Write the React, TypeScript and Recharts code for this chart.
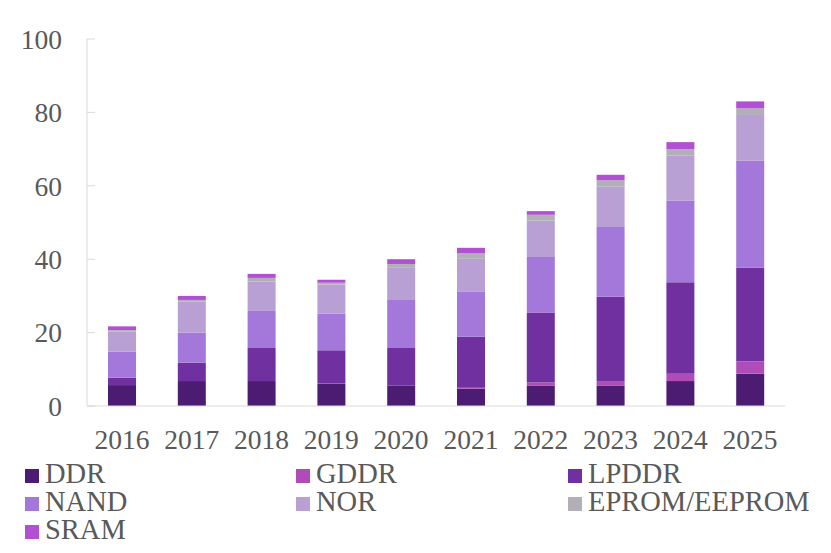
import { BarChart, Bar, XAxis, YAxis } from "recharts";

const years = ["2016", "2017", "2018", "2019", "2020", "2021", "2022", "2023", "2024", "2025"];
const ddr = [5.7, 6.8, 6.8, 6.1, 5.6, 4.7, 5.6, 5.6, 6.8, 8.8];
const gddr = [0, 0, 0, 0, 0, 0.3, 0.8, 1.2, 2.0, 3.3];
const lpddr = [2.0, 5.0, 9.0, 9.1, 10.2, 13.9, 19.1, 23.0, 24.9, 25.6];
const nand = [7.1, 8.2, 10.1, 10.0, 13.1, 12.2, 15.1, 19.0, 22.3, 29.1];
const nor = [5.5, 8.5, 8.0, 7.9, 8.9, 9.0, 9.9, 11.0, 12.2, 12.5];
const eprom = [0.4, 0.4, 1.0, 0.5, 0.9, 1.5, 1.6, 1.7, 1.8, 1.8];
const sram = [1.0, 1.1, 1.1, 0.8, 1.3, 1.5, 1.0, 1.5, 1.9, 1.9];
const yTicks = [0, 20, 40, 60, 80, 100];

const series = [
  { key: "DDR", values: ddr, color: "#4b1c72" },
  { key: "GDDR", values: gddr, color: "#b04cb8" },
  { key: "LPDDR", values: lpddr, color: "#7030a0" },
  { key: "NAND", values: nand, color: "#a477db" },
  { key: "NOR", values: nor, color: "#b89fd4" },
  { key: "EPROM/EEPROM", values: eprom, color: "#b3afb8" },
  { key: "SRAM", values: sram, color: "#b150d2" },
];

const data = years.map((year, i) => {
  const row: Record<string, string | number> = { year };
  for (const s of series) row[s.key] = s.values[i];
  return row;
});

const FONT = '"Liberation Serif", "Times New Roman", serif';
const TEXT = "#595959";

function YTick({ x, y, payload }: any) {
  return (
    <g>
      <line x1={x + 25} x2={x + 33} y1={y} y2={y} stroke="#d9d9d9" strokeWidth={1} />
      <text x={x} y={y} dy="0.355em" textAnchor="end" fill={TEXT} fontSize={27.5} fontFamily={FONT}>
        {payload.value}
      </text>
    </g>
  );
}

export default function App() {
  return (
    <div style={{ position: "absolute", left: 0, top: 0, width: 831, height: 553, background: "#fff" }}>
      <BarChart
        width={831}
        height={553}
        data={data}
        margin={{ top: 39, right: 46, left: 0, bottom: 117 }}
        barSize={28}
      >
        <XAxis
          dataKey="year"
          height={30}
          tickLine={false}
          tickSize={0}
          tickMargin={23}
          axisLine={{ stroke: "#d9d9d9" }}
          tick={{ fill: TEXT, fontSize: 27.5, fontFamily: FONT }}
          interval={0}
        />
        <YAxis
          width={87}
          domain={[0, 100]}
          ticks={yTicks}
          tickLine={false}
          tickSize={0}
          tickMargin={25}
          axisLine={{ stroke: "#d9d9d9" }}
          tick={<YTick />}
        />
        {series.map((s) => (
          <Bar key={s.key} dataKey={s.key} stackId="a" fill={s.color} isAnimationActive={false} />
        ))}
      </BarChart>
      <div
        style={{
          position: "absolute",
          left: 25,
          top: 460,
          display: "grid",
          gridTemplateColumns: "271px 272px auto",
          fontFamily: FONT,
          fontSize: 28.5,
          lineHeight: "28px",
          color: TEXT,
        }}
      >
        {series.map((s) => (
          <div key={s.key} style={{ whiteSpace: "nowrap" }}>
            <span
              style={{
                display: "inline-block",
                width: 14,
                height: 14,
                background: s.color,
                marginRight: 6,
              }}
            />
            {s.key}
          </div>
        ))}
      </div>
    </div>
  );
}
